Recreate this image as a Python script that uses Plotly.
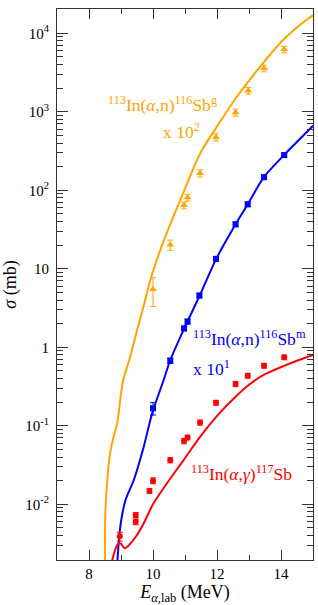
import plotly.graph_objects as go

# ---------------- data ----------------
# 113In(a,n)116Sb^g  (x 10^2)
ng_E = [10.0, 10.54, 10.97, 11.08, 11.47, 11.97, 12.58, 12.98, 13.47, 14.1]
ng_sig = [5.5, 20.2, 64.5, 81, 165, 476, 980, 1860, 3580, 6250]
ng_err = [2.2, 3.0, 6.5, 8, 17, 50, 100, 180, 350, 600]
ng_curve_E = [8.497, 8.504, 8.529, 8.572, 8.613, 8.675, 8.768, 8.883, 8.939, 8.986,
              9.07, 9.28, 9.505, 9.717, 9.919, 10.23, 10.54, 10.85, 11.266, 11.53,
              11.994, 12.616, 13.34, 14.065, 14.79, 15.0]
ng_curve_sig = [0.0015, 0.0063, 0.0114, 0.0204, 0.0317, 0.049, 0.072, 0.108, 0.159, 0.233,
                0.383, 0.74, 1.66, 3.46, 7.24, 17.4, 37.2, 74.6, 192, 326,
                646, 1545, 3725, 8220, 14800, 16900]

# 113In(a,n)116Sb^m  (x 10^1)
nm_E = [10.0, 10.54, 10.97, 11.08, 11.45, 11.97, 12.58, 12.96, 13.47, 14.1]
nm_sig = [0.167, 0.675, 1.74, 2.13, 4.57, 13.4, 36.9, 66.4, 147, 281]
nm_err = [0.03, 0.05, 0.12, 0.15, 0.3, 0.9, 2.5, 4.5, 10, 19]
nm_curve_E = [8.875, 8.933, 9.008, 9.142, 9.40, 9.711, 9.972, 10.333, 10.541, 10.955,
              11.453, 11.972, 12.585, 12.977, 13.474, 14.096, 15.0]
nm_curve_sig = [0.0015, 0.0035, 0.0063, 0.01135, 0.0204, 0.0542, 0.144, 0.383, 0.689, 1.66,
                4.5, 13.3, 37.2, 68.2, 149, 282, 665]

# 113In(a,g)117Sb
ag_E = [8.96, 9.46, 9.46, 9.89, 10.0, 10.54, 10.97, 11.08, 11.47, 11.97, 12.58, 12.96, 13.47, 14.1]
ag_sig = [0.0039, 0.0073, 0.0060, 0.0148, 0.020, 0.0365, 0.064, 0.071, 0.110, 0.197, 0.341, 0.435, 0.583, 0.745]
ag_err = [0.0005, 0.0005, 0.0005, 0.001, 0.0017, 0.0028, 0.005, 0.005, 0.008, 0.014, 0.025, 0.03, 0.04, 0.05]
ag_curve_E = [8.72, 8.883, 8.986, 9.11, 9.25, 9.45, 9.70, 10.0, 10.44, 10.95,
              11.47, 11.99, 12.51, 12.93, 13.47, 14.07, 14.84, 15.0]
ag_curve_sig = [0.0019, 0.00303, 0.00318, 0.00275, 0.00302, 0.0038, 0.00562, 0.0100, 0.0186, 0.0363,
                0.0724, 0.132, 0.219, 0.316, 0.447, 0.575, 0.759, 0.794]

y_tickvals = [1e-2, 1e-1, 1, 10, 1e2, 1e3, 1e4]
y_ticktext = ["10<sup>-2</sup>", "10<sup>-1</sup>", "1", "10", "10<sup>2</sup>", "10<sup>3</sup>", "10<sup>4</sup>"]
x_tickvals = [8, 10, 12, 14]
x_minor = [7, 9, 11, 13, 15]

ORANGE = "#FFA500"
BLUE = "#0000FF"
RED = "#FF0000"
FONT = "Liberation Serif, Times New Roman, Times, serif"

y_minor = []
for e in range(-3, 5):
    for m in range(2, 10):
        v = m * 10 ** e
        if 0.00195 < v < 20400:
            y_minor.append(v)

fig = go.Figure()

def add_set(curve_E, curve_sig, E, sig, err, color, symbol, size):
    fig.add_trace(go.Scatter(x=curve_E, y=curve_sig, mode="lines",
                             line=dict(color=color, width=2, shape="spline", smoothing=0.7),
                             showlegend=False, hoverinfo="skip"))
    fig.add_trace(go.Scatter(x=E, y=sig, mode="markers",
                             marker=dict(color=color, symbol=symbol, size=size),
                             error_y=dict(type="data", array=err, visible=True,
                                          color=color, thickness=1, width=3),
                             showlegend=False))

add_set(ng_curve_E, ng_curve_sig, ng_E, ng_sig, ng_err, ORANGE, "triangle-up", 7)
add_set(nm_curve_E, nm_curve_sig, nm_E, nm_sig, nm_err, BLUE, "square", 6)
add_set(ag_curve_E, ag_curve_sig, ag_E, ag_sig, ag_err, RED, "circle", 6)

annos = [
    (8.52, 3.10, "<sup>113</sup>In(<i>α</i>,n)<sup>116</sup>Sb<sup>g</sup>", ORANGE),
    (10.26, 2.76, "x 10<sup>2</sup>", ORANGE),
    (11.19, 0.12, "<sup>113</sup>In(<i>α</i>,n)<sup>116</sup>Sb<sup>m</sup>", BLUE),
    (11.18, -0.26, "x 10<sup>1</sup>", BLUE),
    (11.12, -1.60, "<sup>113</sup>In(<i>α</i>,<i>γ</i>)<sup>117</sup>Sb", RED),
]
for x, ly, txt, col in annos:
    fig.add_annotation(x=x, y=ly, xref="x", yref="y", text=txt, showarrow=False,
                       xanchor="left", yanchor="middle",
                       font=dict(family=FONT, size=17.5, color=col))

axis_line = "#333333"
fig.update_xaxes(range=[7, 15], tickvals=x_tickvals, ticks="inside", ticklen=10,
                 tickwidth=1, tickcolor=axis_line, showline=True, linecolor=axis_line,
                 linewidth=1, mirror="allticks", showgrid=False, zeroline=False,
                 automargin=False,
                 tickfont=dict(family=FONT, size=15, color="black"),
                 minor=dict(tickvals=x_minor, ticks="inside", ticklen=5, tickcolor=axis_line, showgrid=False),
                 title=dict(text="<i>E</i><sub><i>α</i>,lab</sub> (MeV)",
                            font=dict(family=FONT, size=18, color="black"), standoff=4))
fig.update_yaxes(type="log", range=[-2.71, 4.31], tickvals=y_tickvals, ticktext=y_ticktext,
                 ticks="inside", ticklen=11, tickwidth=1, tickcolor=axis_line,
                 showline=True, linecolor=axis_line, linewidth=1, mirror="allticks",
                 showgrid=False, zeroline=False, automargin=False, ticklabelstandoff=4,
                 tickfont=dict(family=FONT, size=15, color="black"),
                 minor=dict(tickvals=y_minor, ticks="inside", ticklen=6, tickcolor=axis_line, showgrid=False),
                 title=dict(text="<i>σ</i> (mb)", font=dict(family=FONT, size=18, color="black"),
                            standoff=6))

fig.update_layout(width=318, height=605, margin=dict(l=57, r=5, t=9, b=45),
                  plot_bgcolor="white", paper_bgcolor="white", showlegend=False)

fig.write_html("out.html", config={"displayModeBar": False},
               post_script="document.body.style.margin='0';document.body.style.overflow='hidden';")
